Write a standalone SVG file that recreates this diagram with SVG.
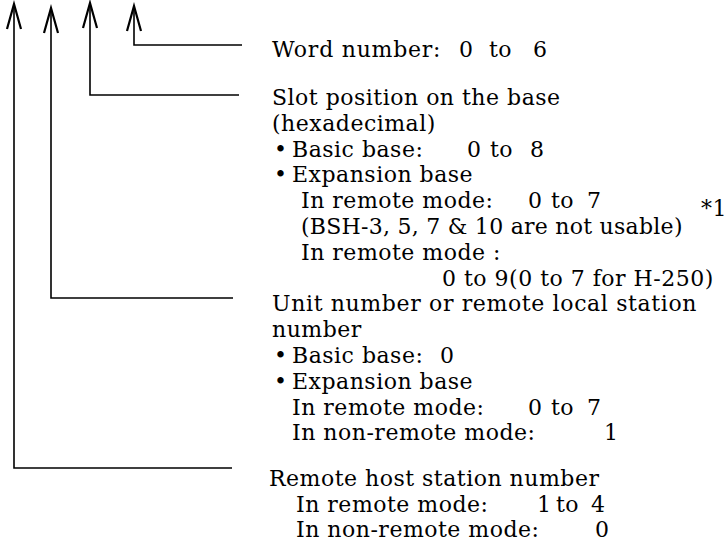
<svg xmlns="http://www.w3.org/2000/svg" width="726" height="546" viewBox="0 0 726 546">
<style>
text{font-family:"DejaVu Serif","Liberation Serif",serif;font-size:22px;fill:#000;letter-spacing:0.5px}
.c{fill:none;stroke:#000;stroke-width:1.6}
</style>
<defs>
<marker id="ah" markerUnits="userSpaceOnUse" markerWidth="30" markerHeight="20" viewBox="-26 -9 30 18" refX="0" refY="0" orient="auto">
<path d="M-25,-7 L0,0 L-25,7" fill="none" stroke="#000" stroke-width="2.2"/>
</marker>
</defs>
<rect width="726" height="546" fill="#fff"/>
<g id="connectors">
<path class="c" d="M232,468 H14 V4" marker-end="url(#ah)"/>
<path class="c" d="M233,298 H51 V8" marker-end="url(#ah)"/>
<path class="c" d="M239,95 H90 V3" marker-end="url(#ah)"/>
<path class="c" d="M242,45 H134 V6" marker-end="url(#ah)"/>
</g>
<g id="word-number">
<text x="272" y="57" textLength="169">Word number:</text>
<text x="459" y="57">0</text><text x="489" y="57">to</text><text x="533" y="57">6</text>
</g>
<g id="slot-position">
<text x="272" y="105">Slot position on the base</text>
<text x="272" y="131">(hexadecimal)</text>
<text x="274" y="157">•</text><text x="292" y="157">Basic base:</text>
<text x="467" y="157">0</text><text x="490" y="157">to</text><text x="530" y="157">8</text>
<text x="274" y="182">•</text><text x="292" y="182">Expansion base</text>
<text x="301" y="208">In remote mode:</text>
<text x="528" y="208">0</text><text x="551" y="208">to</text><text x="587" y="208">7</text>
<text x="701" y="216">*1</text>
<text x="301" y="234" textLength="382">(BSH-3, 5, 7 &amp; 10 are not usable)</text>
<text x="301" y="260">In remote mode :</text>
<text x="442" y="286">0 to 9(0 to 7 for H-250)</text>
</g>
<g id="unit-number">
<text x="272" y="311" textLength="425">Unit number or remote local station</text>
<text x="272" y="337">number</text>
<text x="274" y="363">•</text><text x="292" y="363">Basic base:</text><text x="440" y="363">0</text>
<text x="274" y="389">•</text><text x="292" y="389">Expansion base</text>
<text x="292" y="415">In remote mode:</text>
<text x="528" y="415">0</text><text x="551" y="415">to</text><text x="587" y="415">7</text>
<text x="292" y="440">In non-remote mode:</text><text x="604" y="440">1</text>
</g>
<g id="remote-host">
<text x="269" y="486">Remote host station number</text>
<text x="296" y="512">In remote mode:</text>
<text x="537" y="512">1</text><text x="556" y="512">to</text><text x="591" y="512">4</text>
<text x="296" y="537">In non-remote mode:</text><text x="595" y="537">0</text>
</g>
</svg>
